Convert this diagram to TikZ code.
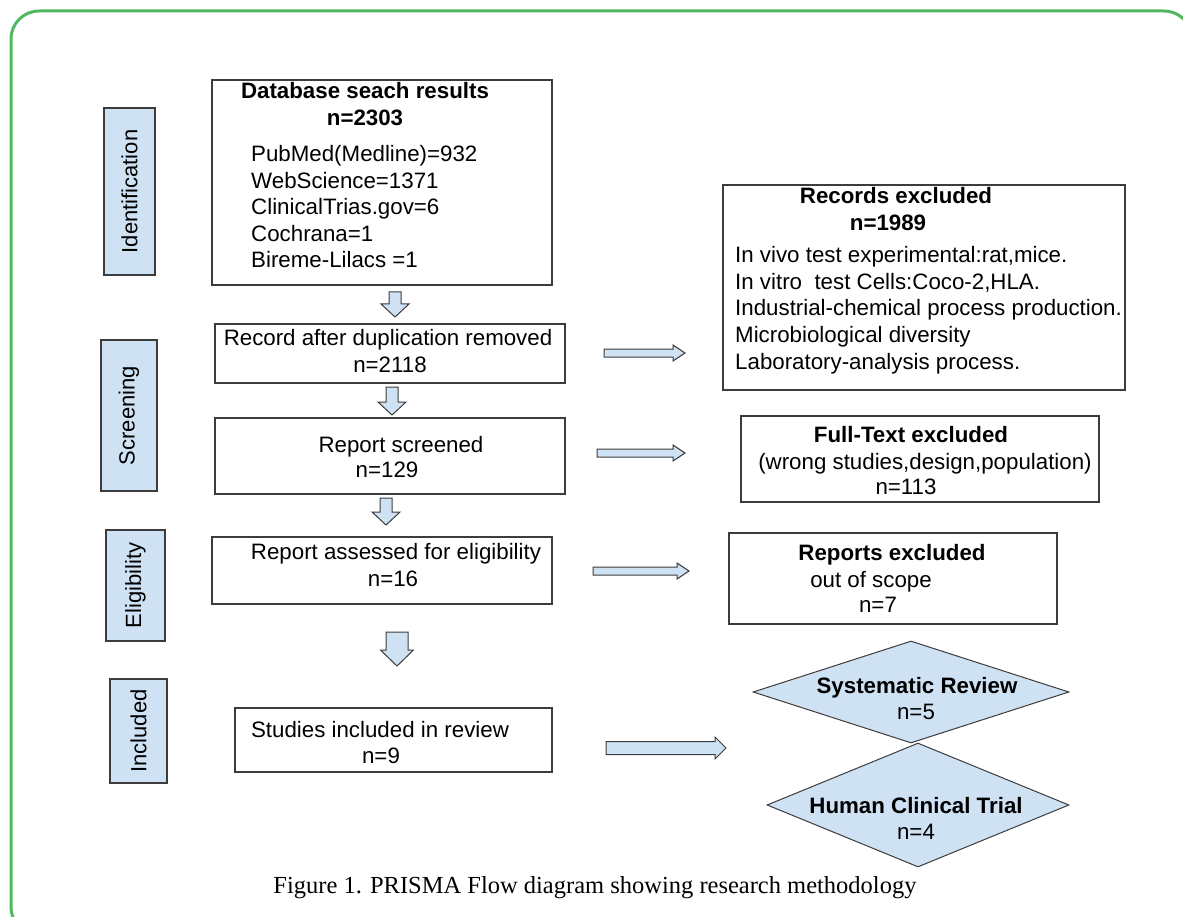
\documentclass[tikz,border=0pt]{standalone}
\usepackage{fontspec}
\setmainfont{Liberation Sans}
\newfontfamily\capfont{Liberation Serif}
\usetikzlibrary{shapes.geometric}

\definecolor{phaseblue}{HTML}{CFE2F3}
\definecolor{framegreen}{HTML}{52B860}
\definecolor{edgegray}{HTML}{3C3C3C}

\newcommand{\dnarrow}[6]{%
  \draw[blockarr] ({#1-#4},#2) -- ({#1+#4},#2) -- ({#1+#4},{#3-#6}) -- ({#1+#5},{#3-#6})
    -- (#1,#3) -- ({#1-#5},{#3-#6}) -- ({#1-#4},{#3-#6}) -- cycle;}
\newcommand{\rtarrow}[6]{%
  \draw[blockarr] (#1,{#2-#4}) -- ({#3-#6},{#2-#4}) -- ({#3-#6},{#2-#5}) -- (#3,#2)
    -- ({#3-#6},{#2+#5}) -- ({#3-#6},{#2+#4}) -- (#1,{#2+#4}) -- cycle;}

\begin{document}
\begin{tikzpicture}[x=1pt,y=-1pt,
  box/.style={draw=edgegray,line width=1.2pt,inner sep=0},
  phase/.style={box,fill=phaseblue,rotate=90,font=\fontsize{22}{26}\selectfont},
  txt/.style={inner sep=0,anchor=base,font=\fontsize{22.3}{26}\selectfont},
  hdr/.style={txt,font=\fontsize{22.3}{26}\selectfont\bfseries},
  blockarr/.style={draw=edgegray,fill=phaseblue,line width=1pt,line join=miter},
  choice/.style={diamond,draw=edgegray,fill=phaseblue,line width=1pt,inner sep=0}]
  \useasboundingbox (0,0) rectangle (1183,917);
  \clip (0,0) rectangle (1183,917);
  \draw[framegreen,line width=3pt,rounded corners=28pt] (11,11) rectangle (1192,935);

  % phases
  \node[phase,minimum width=167,minimum height=51] (ident) at (129.5,191.5) {Identification};
  \node[phase,minimum width=151,minimum height=56] (screen) at (129,415.5) {Screening};
  \node[phase,minimum width=111,minimum height=59] (elig) at (135.5,585.5) {Eligibility};
  \node[phase,minimum width=104,minimum height=57] (incl) at (138.5,731) {Included};

  % main column
  \node[box,minimum width=340,minimum height=205] (search) at (382,182.5) {};
  \node[hdr] (searchhd) at (365,99) {Database seach results};
  \node[hdr] (searchn) at (365,126) {n=2303};
  \foreach \src [count=\i] in {PubMed(Medline)=932, WebScience=1371, ClinicalTrias.gov=6, Cochrana=1, Bireme-Lilacs =1}
    \node[txt,anchor=base west] (src\i) at (251,{162+26.5*(\i-1)}) {\src};

  \node[box,minimum width=350,minimum height=59] (dedup) at (390,353.5) {};
  \node[txt] (deduptx) at (388,345) {Record after duplication removed};
  \node[txt] (dedupn) at (390,372) {n=2118};

  \node[box,minimum width=350,minimum height=76] (screened) at (390,456) {};
  \node[txt] (screenedtx) at (401,452) {Report screened};
  \node[txt] (screenedn) at (387,477) {n=129};

  \node[box,minimum width=340,minimum height=67] (assessed) at (382,570.5) {};
  \node[txt] (assessedtx) at (396,559) {Report assessed for eligibility};
  \node[txt] (assessedn) at (393,586) {n=16};

  \node[box,minimum width=317,minimum height=64] (included) at (393.5,740) {};
  \node[txt] (includedtx) at (380,737) {Studies included in review};
  \node[txt] (includedn) at (381,763) {n=9};

  % excluded column
  \node[box,minimum width=402,minimum height=205] (recexcl) at (924,287.5) {};
  \node[hdr] (recexclhd) at (896,204) {Records excluded};
  \node[hdr] (recexcln) at (888,231) {n=1989};
  \foreach \why [count=\i] in {In vivo test experimental:rat{,}mice., {In vitro \ test Cells:Coco-2,HLA.}, Industrial-chemical process production., Microbiological diversity, Laboratory-analysis process.}
    \node[txt,anchor=base west] (why\i) at (735,{263+26.5*(\i-1)}) {\why};

  \node[box,minimum width=358,minimum height=86] (ftexcl) at (920,459) {};
  \node[hdr] (ftexclhd) at (911,442) {Full-Text excluded};
  \node[txt] (ftexcltx) at (925,469) {(wrong studies,design,population)};
  \node[txt] (ftexcln) at (906,494) {n=113};

  \node[box,minimum width=328,minimum height=91] (repexcl) at (893,578.5) {};
  \node[hdr] (repexclhd) at (892,560) {Reports excluded};
  \node[txt] (repexcltx) at (871,587) {out of scope};
  \node[txt] (repexcln) at (878,612) {n=7};

  \node[choice,minimum width=316,minimum height=102] (sysrev) at (911,692) {};
  \node[hdr] (sysrevhd) at (917,693) {Systematic Review};
  \node[txt] (sysrevn) at (916,719) {n=5};
  \node[choice,minimum width=302,minimum height=124] (trial) at (918,805) {};
  \node[hdr] (trialhd) at (916,813) {Human Clinical Trial};
  \node[txt] (trialn) at (916,839) {n=4};

  % block arrows
  \dnarrow{395}{292}{317}{6}{14}{13}
  \dnarrow{392}{387}{415}{6}{14}{13}
  \dnarrow{386}{498}{525}{6}{14}{13}
  \dnarrow{397}{632}{666}{11}{16.5}{16}
  \rtarrow{604}{353}{685}{4}{8}{12}
  \rtarrow{597}{453}{685}{4}{8}{12}
  \rtarrow{593}{571}{689}{4}{8}{12}
  \rtarrow{606}{748}{726}{6.5}{11}{11}

  \node[inner sep=0,anchor=base,font=\capfont\fontsize{24.5}{29}\selectfont] (caption) at (595,893) {Figure 1. PRISMA Flow diagram showing research methodology};
\end{tikzpicture}
\end{document}
